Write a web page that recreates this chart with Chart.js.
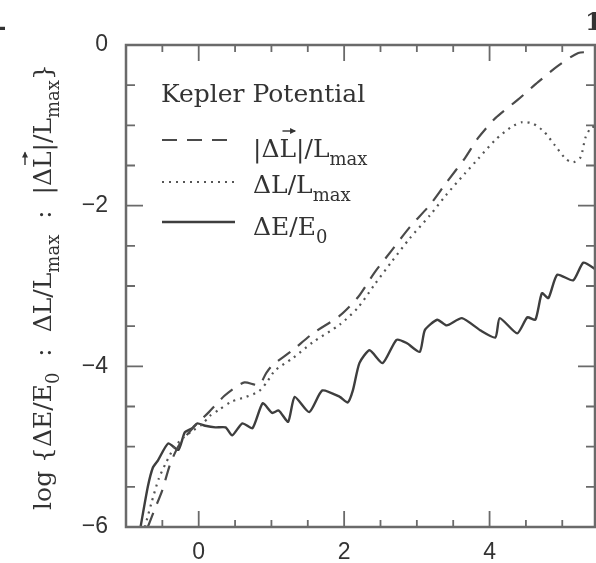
<!DOCTYPE html>
<html>
<head>
<meta charset="utf-8">
<script src="https://cdn.jsdelivr.net/npm/chart.js@4/dist/chart.umd.min.js"></script>
<style>
  html, body { margin: 0; padding: 0; background: #fff; }
  #wrap { position: relative; width: 596px; height: 563px; }
</style>
</head>
<body>
<div id="wrap"><canvas id="c" width="596" height="563"></canvas></div>
<script>
// |ΔL→| / Lmax  (dashed)
const vecX = [-0.70,-0.61,-0.50,-0.39,-0.27,-0.14,-0.02,0.14,0.35,0.49,0.63,0.83,0.93,1.01,1.29,1.57,1.94,2.19,2.42,2.66,2.90,3.18,3.40,3.66,3.84,4.08,4.39,4.67,4.94,5.22,5.41];
const vecY = [-6.00,-5.79,-5.54,-5.21,-4.98,-4.83,-4.71,-4.57,-4.37,-4.27,-4.20,-4.23,-4.08,-3.99,-3.80,-3.59,-3.37,-3.14,-2.83,-2.55,-2.27,-1.99,-1.72,-1.41,-1.16,-0.91,-0.68,-0.46,-0.26,-0.10,-0.09];

// ΔL / Lmax  (dotted)
const angX = [-0.74,-0.65,-0.55,-0.45,-0.33,-0.20,-0.08,0.05,0.15,0.28,0.45,0.65,0.83,0.95,1.05,1.29,1.57,1.94,2.19,2.42,2.66,2.90,3.18,3.40,3.66,3.84,4.08,4.30,4.45,4.60,4.75,4.90,5.05,5.15,5.25,5.32,5.40,5.45];
const angY = [-6.00,-5.70,-5.40,-5.20,-5.00,-4.88,-4.80,-4.72,-4.62,-4.54,-4.44,-4.38,-4.31,-4.18,-4.05,-3.90,-3.70,-3.48,-3.27,-2.98,-2.69,-2.41,-2.12,-1.87,-1.60,-1.42,-1.18,-1.02,-0.96,-0.98,-1.08,-1.25,-1.42,-1.46,-1.40,-1.15,-1.02,-1.02];

// ΔE / E0  (solid)
const engX = [-0.80,-0.70,-0.63,-0.56,-0.42,-0.28,-0.19,-0.09,-0.02,0.09,0.23,0.37,0.46,0.60,0.74,0.88,1.01,1.10,1.23,1.32,1.52,1.70,1.94,2.05,2.12,2.21,2.35,2.53,2.72,2.86,3.04,3.11,3.28,3.41,3.62,3.87,4.08,4.14,4.38,4.52,4.63,4.72,4.81,4.93,5.15,5.29,5.47];
const engY = [-6.00,-5.50,-5.26,-5.17,-4.96,-5.04,-4.82,-4.77,-4.71,-4.74,-4.76,-4.76,-4.86,-4.71,-4.77,-4.46,-4.58,-4.55,-4.69,-4.38,-4.57,-4.30,-4.38,-4.45,-4.30,-3.96,-3.80,-3.96,-3.67,-3.71,-3.82,-3.55,-3.42,-3.49,-3.40,-3.55,-3.64,-3.40,-3.59,-3.39,-3.42,-3.09,-3.15,-2.86,-2.93,-2.71,-2.80];

const seriesNames = ['|ΔL|/Lmax', 'ΔL/Lmax', 'ΔE/E0'];
const xTickLabels = [0, 2, 4];
const yTickLabels = [0, -2, -4, -6];
const panelTitle = 'Kepler Potential';

const SERIF = '"DejaVu Serif", serif';
const INK = '#333';

function pts(xs, ys) { return xs.map((x, i) => ({ x: x, y: ys[i] })); }

// rich-text pieces: [text, kind] with kind n = normal, s = subscript, v = vector (arrow above)
const legendRows = [
  [['|Δ', 'n'], ['L', 'v'], ['|/L', 'n'], ['max', 's']],
  [['ΔL/L', 'n'], ['max', 's']],
  [['ΔE/E', 'n'], ['0', 's']]
];
const yTitle = [['log {ΔE/E', 'n'], ['0', 's'], ['  :  ΔL/L', 'n'], ['max', 's'], ['  :  |Δ', 'n'], ['L', 'v'], ['|/L', 'n'], ['max', 's'], ['}', 'n']];

const MAIN = '25px ' + SERIF, SUB = '18px ' + SERIF;

function richWidth(ctx, segs) {
  let w = 0;
  for (const [t, k] of segs) { ctx.font = k === 's' ? SUB : MAIN; w += ctx.measureText(t).width; }
  return w;
}
function drawRich(ctx, segs, x, y) {
  ctx.textBaseline = 'alphabetic';
  ctx.textAlign = 'left';
  ctx.fillStyle = INK;
  for (const [t, k] of segs) {
    ctx.font = k === 's' ? SUB : MAIN;
    const w = ctx.measureText(t).width;
    ctx.fillText(t, x, k === 's' ? y + 8 : y);
    if (k === 'v') {
      const ay = y - 26, x0 = x + 3, x1 = x + w - 1;
      ctx.save();
      ctx.strokeStyle = INK; ctx.lineWidth = 1.4;
      ctx.beginPath(); ctx.moveTo(x0, ay); ctx.lineTo(x1, ay); ctx.stroke();
      ctx.beginPath(); ctx.moveTo(x1 + 1, ay); ctx.lineTo(x1 - 5, ay - 3); ctx.lineTo(x1 - 5, ay + 3); ctx.closePath();
      ctx.fillStyle = INK; ctx.fill();
      ctx.restore();
    }
    x += w;
  }
}

const framePlugin = {
  id: 'frame',
  afterDatasetsDraw(chart) {
    const ctx = chart.ctx;
    const a = chart.chartArea;
    const xs = chart.scales.x, ys = chart.scales.y;
    ctx.save();
    // frame
    ctx.strokeStyle = '#6a6a6a';
    ctx.lineWidth = 2.5;
    ctx.strokeRect(a.left, a.top, a.right - a.left, a.bottom - a.top);
    // inward ticks every 0.5, longer at even values
    ctx.lineWidth = 1.8;
    ctx.beginPath();
    for (let v = -0.5; v <= xs.max + 1e-9; v += 0.5) {
      const px = xs.getPixelForValue(v);
      const len = Math.abs(v % 2) < 1e-9 ? 16 : 7;
      ctx.moveTo(px, a.bottom); ctx.lineTo(px, a.bottom - len);
      ctx.moveTo(px, a.top); ctx.lineTo(px, a.top + len);
    }
    for (let v = -5.5; v <= -0.5 + 1e-9; v += 0.5) {
      const py = ys.getPixelForValue(v);
      const len = Math.abs(v % 2) < 1e-9 ? 17 : 9;
      ctx.moveTo(a.left, py); ctx.lineTo(a.left + len, py);
      ctx.moveTo(a.right, py); ctx.lineTo(a.right - len, py);
    }
    ctx.stroke();

    // legend block
    ctx.fillStyle = INK;
    ctx.font = MAIN;
    ctx.textBaseline = 'alphabetic';
    ctx.fillText(panelTitle, 161, 102);
    const rowLine = [140, 182, 222], rowBase = [157, 193, 235];
    chart.data.datasets.forEach((ds, i) => {
      ctx.save();
      ctx.strokeStyle = ds.borderColor;
      ctx.lineWidth = ds.borderWidth;
      ctx.setLineDash(ds.borderDash || []);
      ctx.beginPath(); ctx.moveTo(162, rowLine[i]); ctx.lineTo(235, rowLine[i]); ctx.stroke();
      ctx.restore();
      drawRich(ctx, legendRows[i], 253, rowBase[i]);
    });

    // rotated y-axis title
    const tw = richWidth(ctx, yTitle);
    ctx.save();
    ctx.translate(51, 287);
    ctx.rotate(-Math.PI / 2);
    drawRich(ctx, yTitle, -tw / 2, 0);
    ctx.restore();

    // stray marks at the top edges
    ctx.font = 'bold 25px ' + SERIF;
    ctx.fillStyle = INK;
    ctx.fillText('1', 585, 30);
    ctx.fillText('-', -4, 35);
    ctx.restore();
  }
};

new Chart(document.getElementById('c'), {
  type: 'line',
  data: {
    datasets: [
      { label: seriesNames[0], data: pts(vecX, vecY), borderColor: '#4a4a4a', borderWidth: 2.2, borderDash: [15, 10], pointRadius: 0, tension: 0.25, fill: false },
      { label: seriesNames[1], data: pts(angX, angY), borderColor: '#555', borderWidth: 2.2, borderDash: [2, 5], pointRadius: 0, tension: 0.25, fill: false },
      { label: seriesNames[2], data: pts(engX, engY), borderColor: '#3e3e3e', borderWidth: 2.4, pointRadius: 0, tension: 0.2, fill: false }
    ]
  },
  options: {
    responsive: false,
    animation: false,
    devicePixelRatio: 1,
    layout: { padding: { top: 45, right: 1, left: 0, bottom: 0 } },
    plugins: { legend: { display: false }, tooltip: { enabled: false } },
    scales: {
      x: {
        type: 'linear', min: -1, max: 5.45, position: 'bottom',
        grid: { display: false, drawTicks: false }, border: { display: false },
        ticks: { padding: 12, color: INK, font: { family: '"Liberation Sans", Arial, sans-serif', size: 23 }, maxRotation: 0, autoSkip: false },
        afterBuildTicks: s => { s.ticks = xTickLabels.map(v => ({ value: v })); },
        afterFit: s => { s.height = 36; }
      },
      y: {
        type: 'linear', min: -6, max: 0, position: 'left',
        grid: { display: false, drawTicks: false }, border: { display: false },
        ticks: {
          padding: 18, color: INK, font: { family: '"Liberation Sans", Arial, sans-serif', size: 23 }, autoSkip: false,
          callback: v => (v < 0 ? '\u2212' + Math.abs(v) : String(v))
        },
        afterBuildTicks: s => { s.ticks = yTickLabels.map(v => ({ value: v })); },
        afterFit: s => { s.width = 126; }
      }
    }
  },
  plugins: [framePlugin]
});
</script>
</body>
</html>
